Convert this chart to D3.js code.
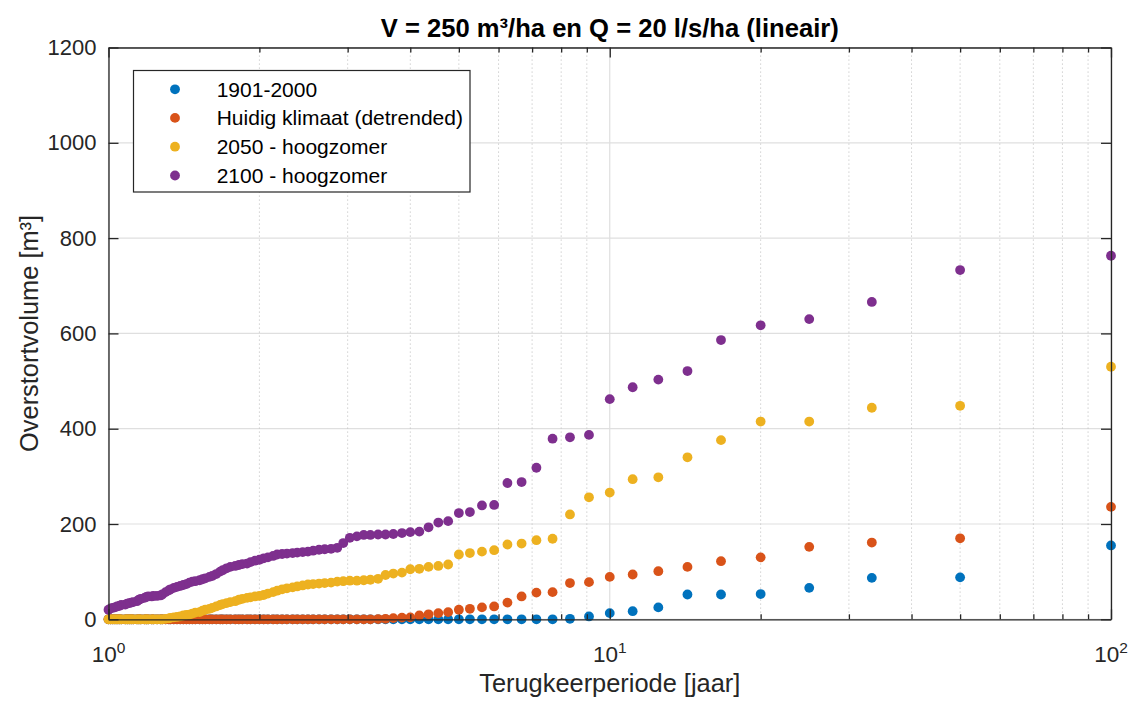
<!DOCTYPE html>
<html>
<head>
<meta charset="utf-8">
<script src="https://cdn.jsdelivr.net/npm/d3@7"></script>
<style>
  html, body { margin: 0; padding: 0; background: #ffffff; }
  svg { display: block; font-family: "Liberation Sans", Arial, Helvetica, sans-serif; }
</style>
</head>
<body>
<svg id="chart" width="1136" height="702"></svg>
<script>
// Return periods (years) of the ranked annual events, largest event first
const returnPeriod = [
  100, 50, 33.33, 25, 20, 16.67, 14.29, 12.5, 11.11, 10,
  9.09, 8.33, 7.69, 7.14, 6.67, 6.25, 5.88, 5.56, 5.26, 5,
  4.76, 4.55, 4.35, 4.17, 4, 3.85, 3.7, 3.57, 3.45, 3.33,
  3.23, 3.13, 3.03, 2.94, 2.86, 2.78, 2.7, 2.63, 2.56, 2.5,
  2.44, 2.38, 2.33, 2.27, 2.22, 2.17, 2.13, 2.08, 2.04, 2,
  1.96, 1.92, 1.89, 1.85, 1.82, 1.79, 1.75, 1.72, 1.69, 1.67,
  1.64, 1.61, 1.59, 1.56, 1.54, 1.52, 1.49, 1.47, 1.45, 1.43,
  1.41, 1.39, 1.37, 1.35, 1.33, 1.32, 1.3, 1.28, 1.27, 1.25,
  1.23, 1.22, 1.2, 1.19, 1.18, 1.16, 1.15, 1.14, 1.12, 1.11,
  1.1, 1.09, 1.08, 1.06, 1.05, 1.04, 1.03, 1.02, 1.01, 1
];

// Overflow volume [m3] per series, same order as returnPeriod
const vol1901_2000 = [
  155, 88, 87, 66, 53, 52, 52, 25, 17, 13,
  6, 1, 0, 0, 0, 0, 0, 0, 0, 0,
  0, 0, 0, 0, 0, 0, 0, 0, 0, 0,
  0, 0, 0, 0, 0, 0, 0, 0, 0, 0,
  0, 0, 0, 0, 0, 0, 0, 0, 0, 0,
  0, 0, 0, 0, 0, 0, 0, 0, 0, 0,
  0, 0, 0, 0, 0, 0, 0, 0, 0, 0,
  0, 0, 0, 0, 0, 0, 0, 0, 0, 0,
  0, 0, 0, 0, 0, 0, 0, 0, 0, 0,
  0, 0, 0, 0, 0, 0, 0, 0, 0, 0
];

const volHuidig = [
  236, 170, 161, 152, 130, 122, 110, 101, 94, 89,
  78, 76, 57, 56, 48, 35, 27, 25, 22, 20,
  15, 13, 10.5, 8, 4, 3.5, 2.5, 1, 0.5, 0,
  0, 0, 0, 0, 0, 0, 0, 0, 0, 0,
  0, 0, 0, 0, 0, 0, 0, 0, 0, 0,
  0, 0, 0, 0, 0, 0, 0, 0, 0, 0,
  0, 0, 0, 0, 0, 0, 0, 0, 0, 0,
  0, 0, 0, 0, 0, 0, 0, 0, 0, 0,
  0, 0, 0, 0, 0, 0, 0, 0, 0, 0,
  0, 0, 0, 0, 0, 0, 0, 0, 0, 0
];

const vol2050 = [
  530, 448, 444, 415, 415, 376, 340, 298, 294, 266,
  256, 220, 169, 166, 159, 157, 145, 142, 139, 136,
  115, 112, 110, 106, 105, 98, 96, 93, 85, 83,
  82, 81, 81, 80, 79, 77, 76, 75, 74, 73,
  71, 69, 67, 65, 63, 60, 57, 54, 51, 49,
  48, 46, 45, 43, 41, 38, 36, 34, 32, 30,
  27, 24, 22, 20, 18, 15, 14, 12, 10, 9,
  8, 6, 5, 4, 3, 2, 1, 0, 0, 0,
  0, 0, 0, 0, 0, 0, 0, 0, 0, 0,
  0, 0, 0, 0, 0, 0, 0, 0, 0, 0
];

const vol2100 = [
  763, 733, 666, 630, 617, 586, 521, 503, 487, 462,
  387, 382, 379, 318, 288, 286, 240, 239, 225, 223,
  206, 203, 193, 184, 183, 181, 179, 178, 178, 177,
  177, 174, 171, 160, 150, 148, 147, 146, 144, 142,
  141, 140, 139, 138, 137, 136, 133, 130, 128, 125,
  123, 120, 117, 116, 114, 112, 110, 107, 103, 100,
  95, 91, 89, 86, 84, 82, 80, 79, 77, 74,
  72, 70, 68, 66, 63, 61, 57, 52, 50, 49,
  49, 48, 48, 47, 45, 43, 41, 38, 36, 35,
  34, 33, 31, 30, 28, 27, 25, 24, 23, 20
];

const seriesNames = ["1901-2000", "Huidig klimaat (detrended)", "2050 - hoogzomer", "2100 - hoogzomer"];
const seriesColors = ["#0072BD", "#D95319", "#EDB120", "#7E2F8E"];
const seriesValues = [vol1901_2000, volHuidig, vol2050, vol2100];

const xMajorTicks = [1, 10, 100];
const xMajorExp = ["0", "1", "2"];
const xMinorTicks = [2, 3, 4, 5, 6, 7, 8, 9, 20, 30, 40, 50, 60, 70, 80, 90];
const yTicks = [0, 200, 400, 600, 800, 1000, 1200];

const titleText = "V = 250 m\u00B3/ha en Q = 20 l/s/ha (lineair)";
const xLabelText = "Terugkeerperiode [jaar]";
const yLabelText = "Overstortvolume [m\u00B3]";

// ---- layout ----
const plot = { left: 108.5, right: 1111, top: 47.5, bottom: 619.3 };
const axisColor = "#262626";

const svg = d3.select("#chart");

const x = d3.scaleLog().domain([1, 100]).range([plot.left, plot.right]);
const y = d3.scaleLinear().domain([0, 1200]).range([plot.bottom, plot.top]);

// background of axes
svg.append("rect")
  .attr("x", plot.left).attr("y", plot.top)
  .attr("width", plot.right - plot.left).attr("height", plot.bottom - plot.top)
  .attr("fill", "#ffffff");

// ---- grid ----
const grid = svg.append("g");
grid.append("g").selectAll("line").data(yTicks).join("line")
  .attr("x1", plot.left).attr("x2", plot.right)
  .attr("y1", d => y(d)).attr("y2", d => y(d))
  .attr("stroke", "#dfdfdf").attr("stroke-width", 1.2);
grid.append("g").selectAll("line").data(xMinorTicks).join("line")
  .attr("x1", d => x(d)).attr("x2", d => x(d))
  .attr("y1", plot.top).attr("y2", plot.bottom)
  .attr("stroke", "#c4c4c4").attr("stroke-width", 1)
  .attr("stroke-dasharray", "1.2,2.8");
grid.append("g").selectAll("line").data(xMajorTicks).join("line")
  .attr("x1", d => x(d)).attr("x2", d => x(d))
  .attr("y1", plot.top).attr("y2", plot.bottom)
  .attr("stroke", "#dfdfdf").attr("stroke-width", 1.2);

// ---- data points ----
const pts = svg.append("g");
seriesValues.forEach((vals, si) => {
  pts.append("g").selectAll("circle")
    .data(vals.map((v, i) => ({ t: returnPeriod[i], v })))
    .join("circle")
    .attr("cx", d => x(d.t))
    .attr("cy", d => y(d.v))
    .attr("r", 4.9)
    .attr("fill", seriesColors[si]);
});

// ---- axes ----
function styleAxis(g) {
  g.selectAll(".domain").attr("stroke", axisColor).attr("stroke-width", 1.3);
  g.selectAll(".tick line").attr("stroke", axisColor).attr("stroke-width", 1.3);
  g.selectAll(".tick text").attr("fill", axisColor);
}

const axBottom = svg.append("g").attr("transform", `translate(0,${plot.bottom})`)
  .call(d3.axisBottom(x).tickValues(xMajorTicks).tickSizeInner(-10).tickSizeOuter(0).tickFormat(""));
styleAxis(axBottom);
const axBottomMinor = svg.append("g").attr("transform", `translate(0,${plot.bottom})`)
  .call(d3.axisBottom(x).tickValues(xMinorTicks).tickSizeInner(-5).tickSizeOuter(0).tickFormat(""));
styleAxis(axBottomMinor);
axBottomMinor.select(".domain").remove();

const axTop = svg.append("g").attr("transform", `translate(0,${plot.top})`)
  .call(d3.axisTop(x).tickValues(xMajorTicks).tickSizeInner(-10).tickSizeOuter(0).tickFormat(""));
styleAxis(axTop);
const axTopMinor = svg.append("g").attr("transform", `translate(0,${plot.top})`)
  .call(d3.axisTop(x).tickValues(xMinorTicks).tickSizeInner(-5).tickSizeOuter(0).tickFormat(""));
styleAxis(axTopMinor);
axTopMinor.select(".domain").remove();

const axLeft = svg.append("g").attr("transform", `translate(${plot.left},0)`)
  .call(d3.axisLeft(y).tickValues(yTicks).tickFormat(d3.format("d"))
    .tickSizeInner(-10).tickSizeOuter(0).tickPadding(12));
styleAxis(axLeft);
axLeft.attr("font-family", null).attr("font-size", 22);

const axRight = svg.append("g").attr("transform", `translate(${plot.right},0)`)
  .call(d3.axisRight(y).tickValues(yTicks).tickSizeInner(-10).tickSizeOuter(0).tickFormat(""));
styleAxis(axRight);

// x tick labels as powers of ten
const xLab = svg.append("g");
xMajorTicks.forEach((t, i) => {
  const txt = xLab.append("text")
    .attr("x", x(t)).attr("y", 662)
    .attr("text-anchor", "middle")
    .attr("fill", axisColor)
    .attr("font-size", 22.5);
  txt.append("tspan").text("10");
  txt.append("tspan").attr("font-size", 15.5).attr("dy", -9).text(xMajorExp[i]);
});

// ---- labels ----
svg.append("text")
  .attr("x", (plot.left + plot.right) / 2).attr("y", 37)
  .attr("text-anchor", "middle")
  .attr("font-size", 25.6).attr("font-weight", "bold")
  .attr("fill", "#000000")
  .text(titleText);

svg.append("text")
  .attr("x", (plot.left + plot.right) / 2).attr("y", 692)
  .attr("text-anchor", "middle")
  .attr("font-size", 25.4)
  .attr("fill", axisColor)
  .text(xLabelText);

svg.append("text")
  .attr("transform", `translate(38,${(plot.top + plot.bottom) / 2}) rotate(-90)`)
  .attr("text-anchor", "middle")
  .attr("font-size", 25.4)
  .attr("fill", axisColor)
  .text(yLabelText);

// ---- legend ----
const legend = svg.append("g");
legend.append("rect")
  .attr("x", 133.5).attr("y", 70.5)
  .attr("width", 336.5).attr("height", 121.5)
  .attr("fill", "#ffffff")
  .attr("stroke", axisColor).attr("stroke-width", 1.2);
const rowY = [89.3, 117.9, 146.7, 175.5];
seriesNames.forEach((name, i) => {
  legend.append("circle")
    .attr("cx", 175).attr("cy", rowY[i]).attr("r", 4.9)
    .attr("fill", seriesColors[i]);
  legend.append("text")
    .attr("x", 216.7).attr("y", rowY[i]).attr("dy", "0.35em")
    .attr("font-size", 21)
    .attr("fill", "#000000")
    .text(name);
});
</script>
</body>
</html>
